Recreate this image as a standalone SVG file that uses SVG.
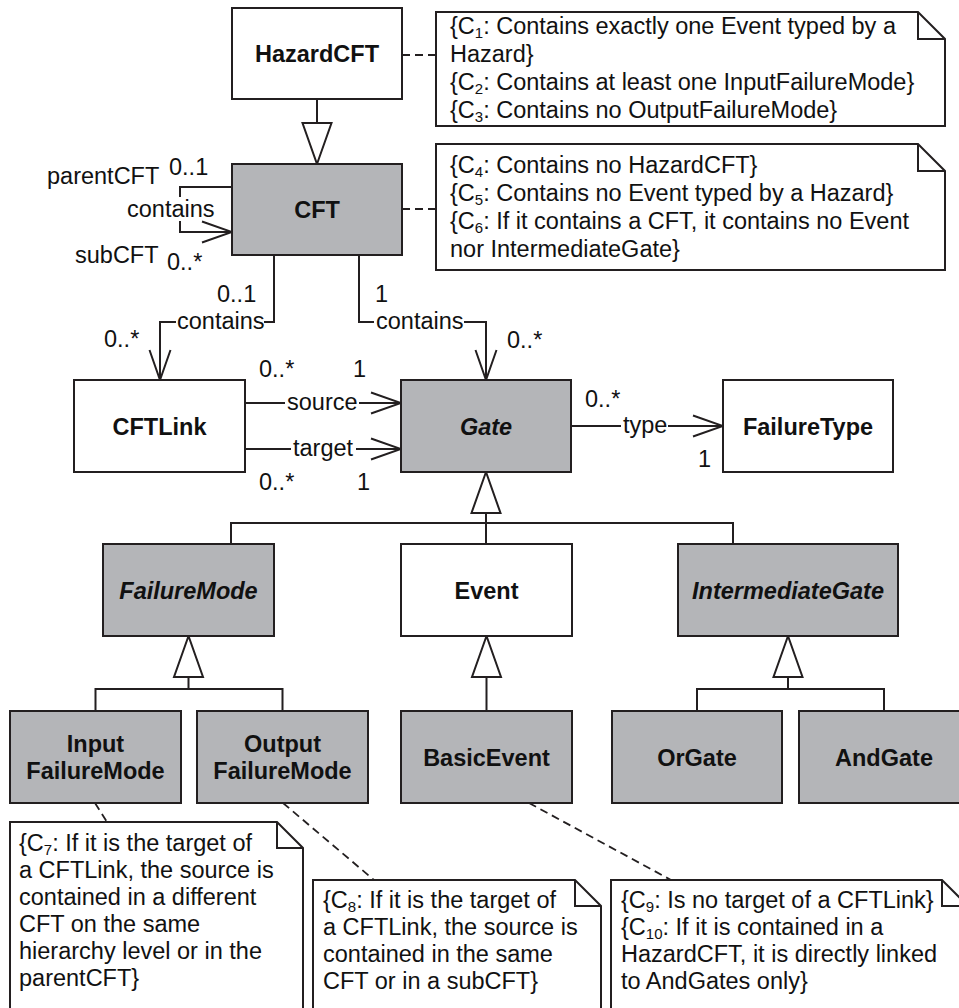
<svg xmlns="http://www.w3.org/2000/svg" xmlns:xlink="http://www.w3.org/1999/xlink" width="959" height="1008" viewBox="0 0 959 1008">
  <style>
    .box { fill: #ffffff; stroke: #231f20; stroke-width: 2; }
    .gray { fill: #b4b5b8; }
    .lbl { font-family: "Liberation Sans", Arial, sans-serif; font-weight: bold; font-size: 23.5px; text-anchor: middle; fill: #111111; }
    .it { font-style: italic; }
    .txt { font-family: "Liberation Sans", Arial, sans-serif; font-size: 23.5px; fill: #111111; }
    .ln { fill: none; stroke: #231f20; stroke-width: 2; }
    .dash { fill: none; stroke: #231f20; stroke-width: 1.8; stroke-dasharray: 8 5; }
    .note { fill: #ffffff; stroke: #231f20; stroke-width: 2; }
  </style>
  <defs>
    <marker id="open" markerUnits="userSpaceOnUse" viewBox="-32 -12 34 24" markerWidth="34" markerHeight="24" refX="0" refY="0" orient="auto">
      <path d="M-30,-10.5 L0,0 L-30,10.5" fill="none" stroke="#231f20" stroke-width="2"/>
    </marker>
    <path id="tri" d="M0,0 L-14.5,41 H14.5 Z" fill="#ffffff" stroke="#231f20" stroke-width="2" stroke-linejoin="miter"/>
  </defs>

  <rect width="959" height="1008" fill="#ffffff"/>

  <!-- connectors -->
  <g id="connectors">
    <!-- generalizations -->
    <path class="ln" d="M317,99 V123"/>
    <use xlink:href="#tri" transform="translate(317,164) rotate(180)"/>
    <path class="ln" d="M486,513 V523 M231,544 V523 H733 V544 M486,523 V544"/>
    <use xlink:href="#tri" x="486" y="472"/>
    <path class="ln" d="M188.5,677 V689 M95.5,711 V689 H282.5 V711"/>
    <use xlink:href="#tri" x="188.5" y="636"/>
    <path class="ln" d="M486.5,677 V711"/>
    <use xlink:href="#tri" x="486.5" y="636"/>
    <path class="ln" d="M788,677 V689 M697,711 V689 H884 V711"/>
    <use xlink:href="#tri" x="788" y="636"/>

    <!-- CFT self containment -->
    <path class="ln" d="M232,187 H180 V197"/>
    <path class="ln" d="M180,221 V232 H232" marker-end="url(#open)"/>
    <!-- CFT contains CFTLink -->
    <path class="ln" d="M274,255 V322 H264"/>
    <path class="ln" d="M176,322 H160 V380" marker-end="url(#open)"/>
    <!-- CFT contains Gate -->
    <path class="ln" d="M359,255 V322 H374"/>
    <path class="ln" d="M464,322 H486 V380" marker-end="url(#open)"/>
    <!-- CFTLink source / target -->
    <path class="ln" d="M245,403 H285"/>
    <path class="ln" d="M359,403 H401" marker-end="url(#open)"/>
    <path class="ln" d="M245,449 H291"/>
    <path class="ln" d="M356,449 H401" marker-end="url(#open)"/>
    <!-- Gate type -->
    <path class="ln" d="M571,426 H621"/>
    <path class="ln" d="M668,426 H723" marker-end="url(#open)"/>

    <!-- note anchors -->
    <path class="dash" d="M402,55 H436"/>
    <path class="dash" d="M402,209 H436"/>
    <path class="dash" d="M95,803 L107,822"/>
    <path class="dash" d="M283,803 L374,880"/>
    <path class="dash" d="M529,803 L671,880"/>

    <!-- association labels -->
    <text class="txt" x="47" y="184">parentCFT</text>
    <text class="txt" x="169" y="175">0..1</text>
    <text class="txt" x="127" y="217">contains</text>
    <text class="txt" x="75" y="263">subCFT</text>
    <text class="txt" x="167" y="270">0..*</text>

    <text class="txt" x="217" y="302">0..1</text>
    <text class="txt" x="177" y="329">contains</text>
    <text class="txt" x="104" y="347">0..*</text>

    <text class="txt" x="375" y="302">1</text>
    <text class="txt" x="376" y="329">contains</text>
    <text class="txt" x="507" y="348">0..*</text>

    <text class="txt" x="259" y="377">0..*</text>
    <text class="txt" x="353" y="377">1</text>
    <text class="txt" x="287" y="410">source</text>
    <text class="txt" x="293" y="456">target</text>
    <text class="txt" x="259" y="490">0..*</text>
    <text class="txt" x="357" y="490">1</text>

    <text class="txt" x="585" y="407">0..*</text>
    <text class="txt" x="623" y="433">type</text>
    <text class="txt" x="698" y="467">1</text>
  </g>

  <!-- classes -->
  <g id="HazardCFT">
    <rect class="box" x="232" y="8" width="170" height="91"/>
    <text class="lbl" x="317" y="62">HazardCFT</text>
  </g>
  <g id="CFT">
    <rect class="box gray" x="232" y="164" width="170" height="91"/>
    <text class="lbl" x="317" y="218">CFT</text>
  </g>
  <g id="CFTLink">
    <rect class="box" x="74" y="380" width="171" height="92"/>
    <text class="lbl" x="159.5" y="434.5">CFTLink</text>
  </g>
  <g id="Gate">
    <rect class="box gray" x="401" y="380" width="170" height="92"/>
    <text class="lbl it" x="486" y="434.5">Gate</text>
  </g>
  <g id="FailureType">
    <rect class="box" x="723" y="380" width="170" height="92"/>
    <text class="lbl" x="808" y="434.5">FailureType</text>
  </g>
  <g id="FailureMode">
    <rect class="box gray" x="103" y="544" width="171" height="92"/>
    <text class="lbl it" x="188.5" y="598.5">FailureMode</text>
  </g>
  <g id="Event">
    <rect class="box" x="401" y="544" width="171" height="92"/>
    <text class="lbl" x="486.5" y="598.5">Event</text>
  </g>
  <g id="IntermediateGate">
    <rect class="box gray" x="678" y="544" width="220" height="92"/>
    <text class="lbl it" x="788" y="598.5">IntermediateGate</text>
  </g>
  <g id="InputFailureMode">
    <rect class="box gray" x="10" y="711" width="171" height="92"/>
    <text class="lbl" x="95.5" y="752">Input</text>
    <text class="lbl" x="95.5" y="778.5">FailureMode</text>
  </g>
  <g id="OutputFailureMode">
    <rect class="box gray" x="197" y="711" width="171" height="92"/>
    <text class="lbl" x="282.5" y="752">Output</text>
    <text class="lbl" x="282.5" y="778.5">FailureMode</text>
  </g>
  <g id="BasicEvent">
    <rect class="box gray" x="401" y="711" width="171" height="92"/>
    <text class="lbl" x="486.5" y="765.5">BasicEvent</text>
  </g>
  <g id="OrGate">
    <rect class="box gray" x="612" y="711" width="170" height="92"/>
    <text class="lbl" x="697" y="765.5">OrGate</text>
  </g>
  <g id="AndGate">
    <rect class="box gray" x="799" y="711" width="170" height="92"/>
    <text class="lbl" x="884" y="765.5">AndGate</text>
  </g>

  <!-- constraint notes -->
  <g id="noteHazardCFT">
    <path class="note" d="M436,12 H918 L945,39 V126 H436 Z"/>
    <path class="ln" d="M918,12 V39 H945"/>
    <text class="txt" x="450" y="34">{C<tspan font-size="15" dy="4">1</tspan><tspan dy="-4">: Contains exactly one Event typed by a</tspan></text>
    <text class="txt" x="450" y="62">Hazard}</text>
    <text class="txt" x="450" y="90">{C<tspan font-size="15" dy="4">2</tspan><tspan dy="-4">: Contains at least one InputFailureMode}</tspan></text>
    <text class="txt" x="450" y="118">{C<tspan font-size="15" dy="4">3</tspan><tspan dy="-4">: Contains no OutputFailureMode}</tspan></text>
  </g>
  <g id="noteCFT">
    <path class="note" d="M436,144 H918 L945,171 V270 H436 Z"/>
    <path class="ln" d="M918,144 V171 H945"/>
    <text class="txt" x="450" y="173">{C<tspan font-size="15" dy="4">4</tspan><tspan dy="-4">: Contains no HazardCFT}</tspan></text>
    <text class="txt" x="450" y="201">{C<tspan font-size="15" dy="4">5</tspan><tspan dy="-4">: Contains no Event typed by a Hazard}</tspan></text>
    <text class="txt" x="450" y="229">{C<tspan font-size="15" dy="4">6</tspan><tspan dy="-4">: If it contains a CFT, it contains no Event</tspan></text>
    <text class="txt" x="450" y="257">nor IntermediateGate}</text>
  </g>
  <g id="noteInputFailureMode">
    <path class="note" d="M10,822 H277 L303,848 V1020 H10 Z"/>
    <path class="ln" d="M277,822 V848 H303"/>
    <text class="txt" x="19" y="851">{C<tspan font-size="15" dy="4">7</tspan><tspan dy="-4">: If it is the target of</tspan></text>
    <text class="txt" x="19" y="878">a CFTLink, the source is</text>
    <text class="txt" x="19" y="905">contained in a different</text>
    <text class="txt" x="19" y="932">CFT on the same</text>
    <text class="txt" x="19" y="959">hierarchy level or in the</text>
    <text class="txt" x="19" y="986">parentCFT}</text>
  </g>
  <g id="noteOutputFailureMode">
    <path class="note" d="M313,880 H575 L601,906 V1020 H313 Z"/>
    <path class="ln" d="M575,880 V906 H601"/>
    <text class="txt" x="323" y="908">{C<tspan font-size="15" dy="4">8</tspan><tspan dy="-4">: If it is the target of</tspan></text>
    <text class="txt" x="323" y="935">a CFTLink, the source is</text>
    <text class="txt" x="323" y="962">contained in the same</text>
    <text class="txt" x="323" y="989">CFT or in a subCFT}</text>
  </g>
  <g id="noteBasicEvent">
    <path class="note" d="M611,880 H942 L968,906 V1020 H611 Z"/>
    <path class="ln" d="M942,880 V906 H968"/>
    <text class="txt" x="621" y="908">{C<tspan font-size="15" dy="4">9</tspan><tspan dy="-4">: Is no target of a CFTLink}</tspan></text>
    <text class="txt" x="621" y="935">{C<tspan font-size="15" dy="4">10</tspan><tspan dy="-4">: If it is contained in a</tspan></text>
    <text class="txt" x="621" y="962">HazardCFT, it is directly linked</text>
    <text class="txt" x="621" y="989">to AndGates only}</text>
  </g>
</svg>
